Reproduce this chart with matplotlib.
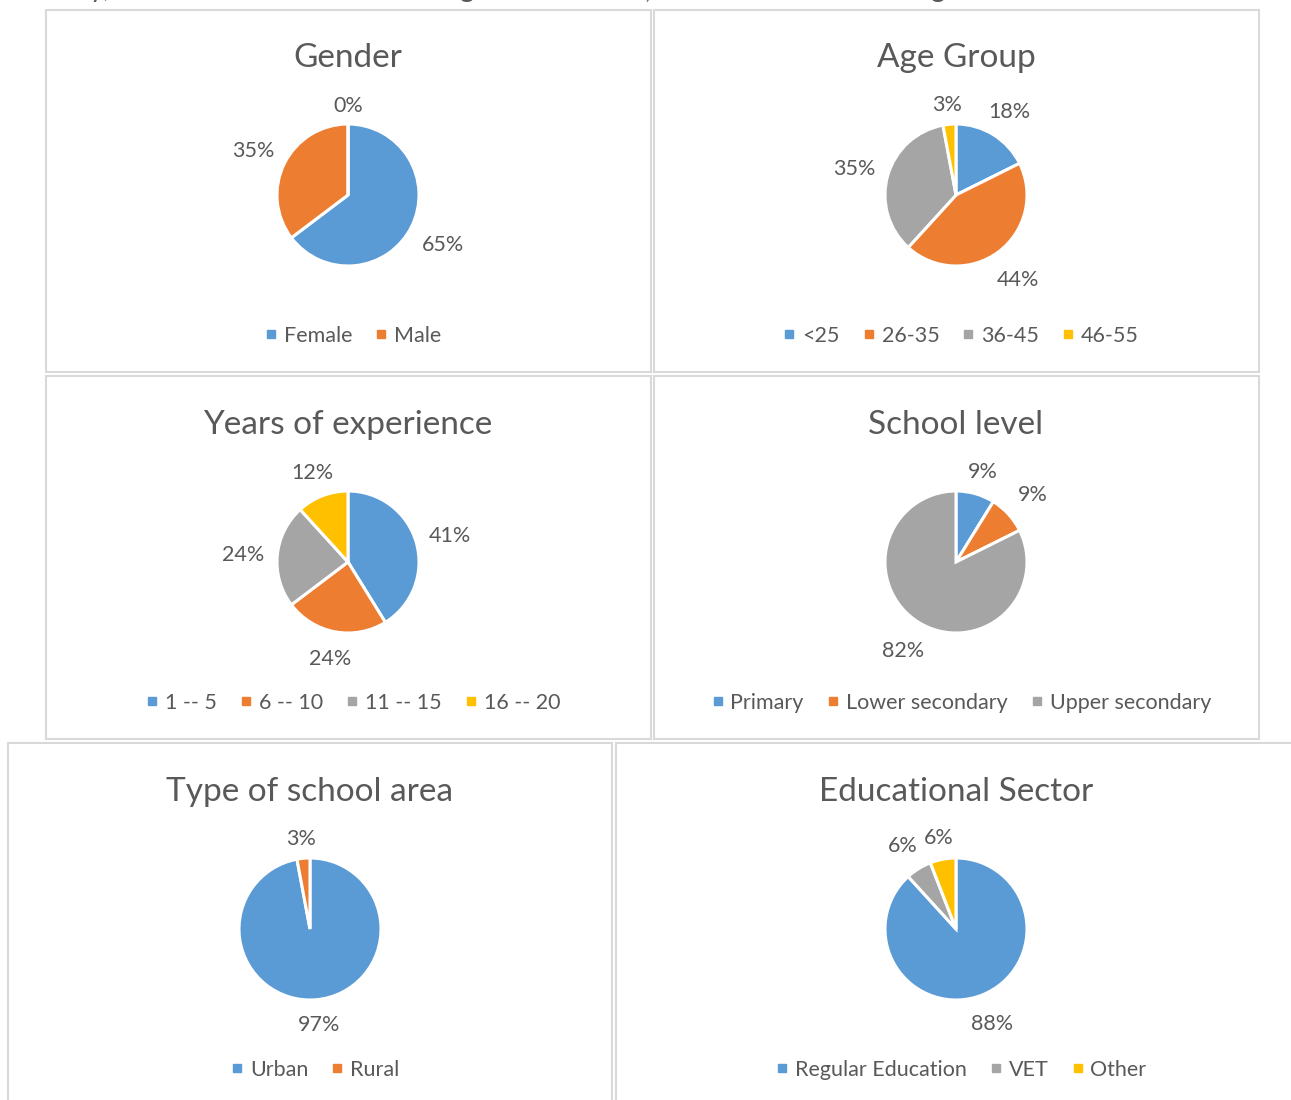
import numpy as np
import matplotlib
matplotlib.use("Agg")
import matplotlib.pyplot as plt
from matplotlib.patches import Rectangle
from matplotlib.lines import Line2D

plt.rcParams['font.family'] = ['Lato', 'DejaVu Sans']

W, H = 1291, 1100
blue, orange, gray, yellow = "#5B9BD5", "#ED7D31", "#A5A5A5", "#FFC000"
txt = "#595959"

# counts of respondents (n = 34)
gender_labels = ["Female", "Male", ""]
gender_counts = [22, 12, 0]
gender_colors = [blue, orange, gray]

age_labels = ["<25", "26-35", "36-45", "46-55"]
age_counts = [6, 15, 12, 1]

exp_labels = ["1 -- 5", "6 -- 10", "11 -- 15", "16 -- 20"]
exp_counts = [14, 8, 8, 4]

level_labels = ["Primary", "Lower secondary", "Upper secondary"]
level_counts = [3, 3, 28]

area_labels = ["Urban", "Rural"]
area_counts = [33, 1]

sector_labels = ["Regular Education", "VET", "Other"]
sector_counts = [30, 2, 2]
sector_colors = [blue, gray, yellow]

fig = plt.figure(figsize=(W / 100, H / 100), dpi=100)


def fx(x):
    return x / W


def fy(y):
    return 1 - y / H


# panel frames (left, top, right, bottom) in pixels
panels = [(46, 10, 651, 372), (654, 10, 1259, 372),
          (46, 376, 651, 739), (654, 376, 1259, 739),
          (8, 743, 612, 1110), (616, 743, 1300, 1110)]
for l, t, r, b in panels:
    fig.patches.append(Rectangle((fx(l), fy(b)), fx(r - l), (b - t) / H,
                                 transform=fig.transFigure, fill=False,
                                 edgecolor="#D9D9D9", linewidth=1.5))

# descenders of the cut-off line of text above
for x, s in [(100, "y,"), (466, "g"), (648, ","), (937, "g")]:
    fig.text(fx(x), 1 + 3 / H, s, fontsize=20, color=txt, ha="center", va="baseline")

R = 71  # pie radius in px
S = 150  # half size of pie axes in px


def pie(cx, cy, title, labels, counts, colors, leg_x, leg_idx=None):
    ax = fig.add_axes([fx(cx - S), fy(cy + S), 2 * S / W, 2 * S / H])
    ax.pie(counts, colors=colors, startangle=90, counterclock=False,
           radius=1, wedgeprops=dict(edgecolor="white", linewidth=2.2))
    ax.set_xlim(-S / R, S / R)
    ax.set_ylim(-S / R, S / R)
    ax.set_aspect("equal")
    ax.axis("off")
    total = sum(counts)
    start = 90.0
    for c in counts:
        frac = c / total
        mid = np.deg2rad(start - 360 * frac / 2)
        start -= 360 * frac
        d = 1 + (14 + 20 * abs(np.cos(mid)) + 7 * abs(np.sin(mid))) / R
        ax.text(d * np.cos(mid), d * np.sin(mid) - 3 / R, f"{round(frac * 100)}%",
                ha="center", va="center", fontsize=15.5, color=txt)
    fig.text(fx(cx), fy(cy - 137), title, ha="center", va="center",
             fontsize=24, color=txt)
    if leg_idx is None:
        leg_idx = range(len(labels))
    handles = [Line2D([], [], marker="s", linestyle="none", markersize=6,
                      color=colors[i]) for i in leg_idx]
    fig.legend(handles, [labels[i] for i in leg_idx], loc="center",
               bbox_to_anchor=(fx(leg_x), fy(cy + 141)), ncol=len(handles),
               frameon=False, fontsize=15.5, labelcolor=txt, handlelength=0.6,
               handletextpad=0.3, columnspacing=1.05)


four = [blue, orange, gray, yellow]
pie(348, 195, "Gender", gender_labels, gender_counts, gender_colors, 353, [0, 1])
pie(956, 195, "Age Group", age_labels, age_counts, four, 961)
pie(348, 562, "Years of experience", exp_labels, exp_counts, four, 353)
pie(956, 562, "School level", level_labels, level_counts, [blue, orange, gray], 961)
pie(310, 929, "Type of school area", area_labels, area_counts, [blue, orange], 315)
pie(956, 929, "Educational Sector", sector_labels, sector_counts, sector_colors, 961)

fig.savefig("out.png", dpi=100)
